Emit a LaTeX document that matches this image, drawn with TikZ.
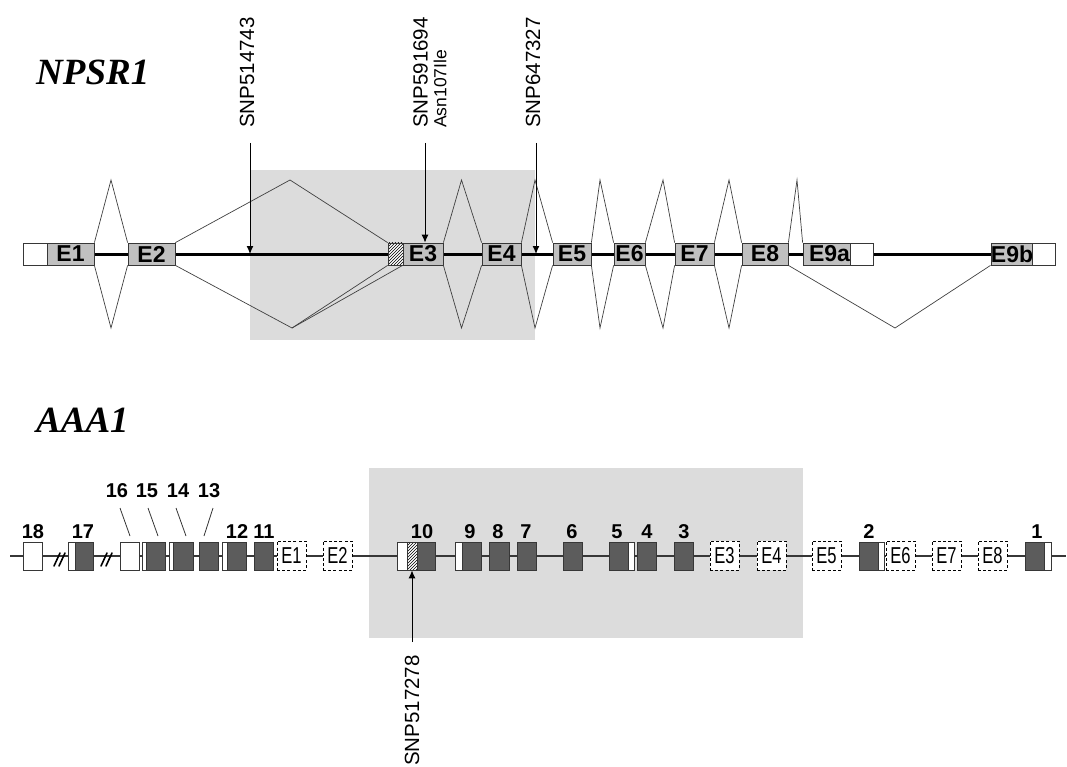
\documentclass[tikz,border=0pt]{standalone}
\usepackage{fontspec}
\setmainfont{Liberation Sans}
\newfontfamily\serifbi{Liberation Serif}
\usetikzlibrary{arrows.meta,patterns,backgrounds}
\definecolor{exongray}{RGB}{192,192,192}
\definecolor{exondark}{RGB}{92,92,92}
\definecolor{regiongray}{RGB}{220,220,220}
\definecolor{edge}{RGB}{55,55,55}
\begin{document}
\begin{tikzpicture}[x=1pt,y=-1pt,
  topexon/.style={draw=edge,line width=0.8pt,fill=exongray,minimum width=#1,minimum height=22pt,inner sep=0pt,font=\fontsize{23}{23}\selectfont\bfseries},
  topwhite/.style={draw=edge,line width=0.8pt,fill=white,minimum width=#1,minimum height=22pt,inner sep=0pt},
  tophatch/.style={draw=edge,line width=0.8pt,preaction={fill=white},pattern=north east lines,minimum width=#1,minimum height=22pt,inner sep=0pt},
  splice/.style={draw=black!75,line width=0.7pt},
  exonD/.style={draw=edge,line width=0.8pt,fill=exondark,minimum width=#1,minimum height=28pt,inner sep=0pt},
  exonW/.style={draw=edge,line width=0.8pt,fill=white,minimum width=#1,minimum height=28pt,inner sep=0pt},
  exonH/.style={draw=edge,line width=0.8pt,preaction={fill=white},pattern=north east lines,minimum width=#1,minimum height=28pt,inner sep=0pt},
  dashbox/.style={draw=black,line width=1pt,dash pattern=on 3pt off 2.2pt,fill=white,minimum width=29pt,minimum height=29pt,inner sep=0pt,font=\fontsize{23}{23}\selectfont},
  numlab/.style={anchor=base,inner sep=0pt,font=\fontsize{20}{20}\selectfont\bfseries},
  snptext/.style={rotate=90,inner sep=0pt,font=\fontsize{20.5}{20.5}\selectfont},
  snparrow/.style={line width=1pt,-{Latex[length=8pt,width=7pt]}},
  genetitle/.style={anchor=base west,inner sep=0pt,font=\serifbi\bfseries\itshape\fontsize{37}{37}\selectfont},
  leader/.style={draw=black!80,line width=0.8pt},
  breakmark/.style={line width=1.6pt,line cap=round},
]
\useasboundingbox (0,0) rectangle (1067,767);

% ---------------- NPSR1 ----------------
\node[genetitle] (npsr) at (36,85) {NPSR1};

\node[topwhite=24] (U1) at (35,254) {};
\node[topexon=47] (E1) at (70.5,254) {E1};
\node[topexon=47] (E2) at (151.5,254) {E2};
\node[tophatch=15] (H3) at (395.5,254) {};
\node[topexon=40] (E3) at (423,254) {E3};
\node[topexon=39] (E4) at (501.5,254) {E4};
\node[topexon=38] (E5) at (572,254) {E5};
\node[topexon=31] (E6) at (629.5,254) {E6};
\node[topexon=39] (E7) at (694.5,254) {E7};
\node[topexon=46] (E8) at (765,254) {E8};
\node[topexon=47] (E9a) at (826.5,254) {\hspace*{6pt}E9a};
\node[topwhite=23] (U9a) at (861.5,254) {};
\node[topexon=40] (E9b) at (1012,254) {E9b};
\node[topwhite=23] (U9b) at (1043.5,254) {};

\begin{pgfonlayer}{background}
  \fill[regiongray] (250,170) rectangle (535,340);
  \draw[line width=3pt] (U1.east) -- (U9b.west);
\end{pgfonlayer}

% splicing between neighbouring exons
\foreach \a/\b/\p in {E1/E2/111, E3/E4/461.5, E4/E5/535, E5/E6/600, E6/E7/663, E7/E8/729}{
  \draw[splice] (\a.north east) -- (\p,180) -- (\b.north west);
  \draw[splice] (\a.south east) -- (\p,328) -- (\b.south west);
}
\draw[splice] (E2.north east) -- (290,180) -- (H3.north west);
\draw[splice] (E2.south east) -- (292,328) -- (H3.south west);
\draw[splice] (292,328) -- (E3.south west);
\draw[splice] (E8.north east) -- (797,180) -- (E9a.north west);
\draw[splice] (E8.south east) -- (895,328) -- (E9b.south west);

% SNPs
\node[snptext,anchor=west] (snpA) at (247,128) {SNP514743};
\node[snptext,anchor=west] (snpB) at (420.5,128) {SNP591694};
\node[snptext,anchor=west,font=\fontsize{17.5}{17.5}\selectfont] (asn) at (440,128) {Asn107Ile};
\node[snptext,anchor=west] (snpC) at (533,128) {SNP647327};
\coordinate (a1) at (250,143);
\coordinate (a1e) at (250,254);
\coordinate (a2) at (425,143);
\coordinate (a3) at (536,143);
\coordinate (a3e) at (536,254);
\draw[snparrow] (a1) -- (a1e);
\draw[snparrow] (a2) -- (a2 |- E3.north);
\draw[snparrow] (a3) -- (a3e);

% ---------------- AAA1 ----------------
\node[genetitle] (aaa) at (36,432) {AAA1};

\node[exonW=19] (B18) at (32.5,556) {};
\node[exonW=7] (B17w) at (71.5,556) {};
\node[exonD=18] (B17) at (84,556) {};
\node[exonW=19] (B16) at (129.5,556) {};
\node[exonW=4] (B15w) at (144,556) {};
\node[exonD=19] (B15) at (155.5,556) {};
\node[exonW=4] (B14w) at (171,556) {};
\node[exonD=20] (B14) at (183,556) {};
\node[exonD=19] (B13) at (208.5,556) {};
\node[exonW=5] (B12w) at (224.5,556) {};
\node[exonD=19] (B12) at (236.5,556) {};
\node[exonD=19] (B11) at (263.5,556) {};
\node[dashbox] (D1) at (291.5,555.5) {\scalebox{0.72}[1]{E1}};
\node[dashbox] (D2) at (337.5,555.5) {\scalebox{0.72}[1]{E2}};
\node[exonW=10] (B10w) at (402,556) {};
\node[exonH=10] (B10h) at (412,556) {};
\node[exonD=18] (B10) at (426,556) {};
\node[exonW=7] (B9w) at (458.5,556) {};
\node[exonD=19] (B9) at (471.5,556) {};
\node[exonD=20] (B8) at (499,556) {};
\node[exonD=19] (B7) at (526.5,556) {};
\node[exonD=19] (B6) at (572.5,556) {};
\node[exonD=19] (B5) at (618.5,556) {};
\node[exonW=6] (B5w) at (631,556) {};
\node[exonD=19] (B4) at (646.5,556) {};
\node[exonD=19] (B3) at (683.5,556) {};
\node[dashbox] (D3) at (724.5,555.5) {\scalebox{0.72}[1]{E3}};
\node[dashbox] (D4) at (771.5,555.5) {\scalebox{0.72}[1]{E4}};
\node[dashbox] (D5) at (826.5,555.5) {\scalebox{0.72}[1]{E5}};
\node[exonD=19] (B2) at (868.5,556) {};
\node[exonW=6] (B2w) at (881,556) {};
\node[dashbox] (D6) at (900.5,555.5) {\scalebox{0.72}[1]{E6}};
\node[dashbox] (D7) at (946.5,555.5) {\scalebox{0.72}[1]{E7}};
\node[dashbox] (D8) at (992.5,555.5) {\scalebox{0.72}[1]{E8}};
\node[exonD=19] (B1) at (1034.5,556) {};
\node[exonW=7] (B1w) at (1047.5,556) {};

\coordinate (g0) at (10,556);
\coordinate (g1) at (1066,556);
\begin{pgfonlayer}{background}
  \fill[regiongray] (369,468) rectangle (803,638);
  \draw[line width=1.2pt,draw=edge] (g0) -- (g1);
\end{pgfonlayer}

% interrupted intron marks
\draw[breakmark] (54,566) -- (60,553) (59,566) -- (65,553);
\draw[breakmark] (101,566) -- (107,553) (106,566) -- (112,553);

% exon numbers
\foreach \x/\t in {33/18, 83/17, 237/12, 264/11, 422/10, 470/9, 498/8, 526/7, 572/6, 617/5, 647/4, 684/3, 869/2, 1037/1}{
  \node[numlab] at (\x,538.5) {\t};
}
\node[numlab] (n16) at (117,497) {16};
\node[numlab] (n15) at (147,497) {15};
\node[numlab] (n14) at (178,497) {14};
\node[numlab] (n13) at (209,497) {13};
\coordinate (k16) at (130,536);
\coordinate (k15) at (158,536);
\coordinate (k14) at (186,536);
\coordinate (k13) at (204,536);
\draw[leader] ([xshift=3pt,yshift=-11pt]n16.base) -- (k16);
\draw[leader] ([xshift=1pt,yshift=-11pt]n15.base) -- (k15);
\draw[leader] ([xshift=-2pt,yshift=-11pt]n14.base) -- (k14);
\draw[leader] ([xshift=4pt,yshift=-11pt]n13.base) -- (k13);

% SNP in AAA1
\node[snptext,anchor=east] (snpD) at (412,655) {SNP517278};
\coordinate (a4) at (412,642);
\draw[snparrow] (a4) -- (a4 |- B10h.south);
\end{tikzpicture}
\end{document}
